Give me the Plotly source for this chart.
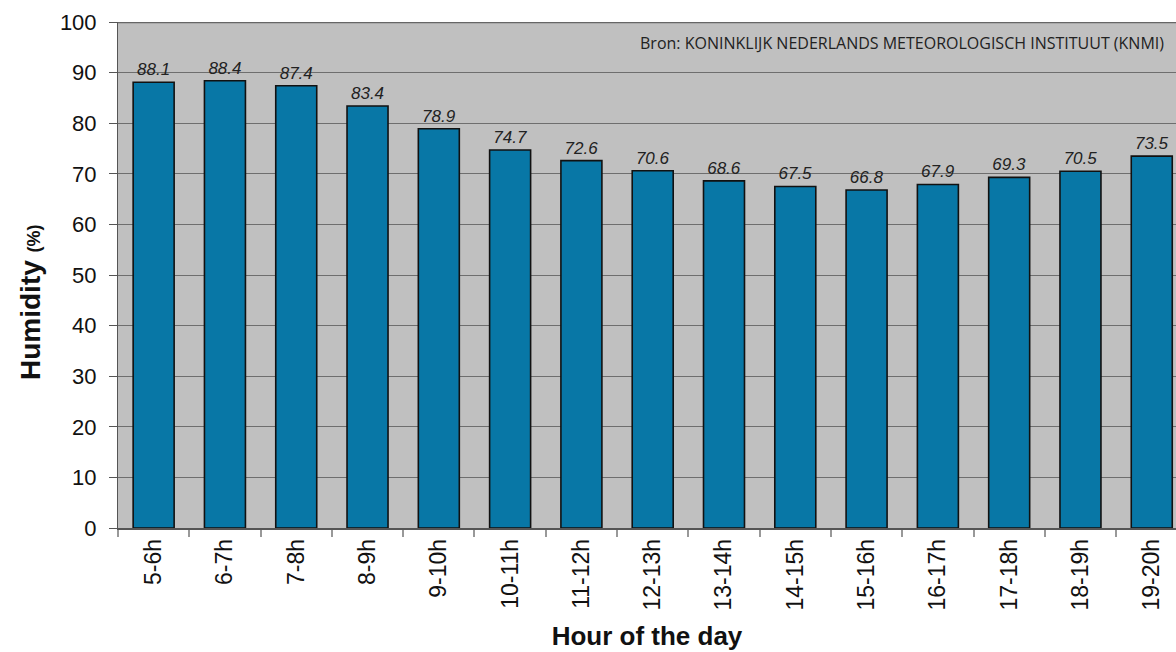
import plotly.graph_objects as go

hours = ["5-6h", "6-7h", "7-8h", "8-9h", "9-10h", "10-11h", "11-12h", "12-13h",
         "13-14h", "14-15h", "15-16h", "16-17h", "17-18h", "18-19h", "19-20h"]
humidity = [88.1, 88.4, 87.4, 83.4, 78.9, 74.7, 72.6, 70.6, 68.6, 67.5, 66.8, 67.9, 69.3, 70.5, 73.5]
labels = [f"{v:.1f}" for v in humidity]

W, H = 1176, 652
L, T, B, R = 118, 22, 124, 0
plot_w = W - L - R
plot_h = H - T - B

fig = go.Figure()
fig.add_trace(go.Bar(
    x=hours, y=humidity, width=0.575,
    marker=dict(color="#0877a6", line=dict(color="#111111", width=1.6)),
    text=labels, textposition="outside", cliponaxis=False,
    textfont=dict(family="Liberation Sans, Arial", size=17, color="#222222", style="italic"),
))

fig.update_layout(
    width=W, height=H,
    margin=dict(l=L, r=R, t=T, b=B),
    paper_bgcolor="white", plot_bgcolor="#c0c0c0",
    showlegend=False, bargap=0.425,
    font=dict(family="Liberation Sans, Arial", color="#111111"),
    uniformtext=dict(mode=False),
)
fig.update_xaxes(
    type="category", range=[-0.5, 14.34],
    tickson="boundaries", ticks="outside", ticklen=7, tickcolor="#999999", tickwidth=1.5,
    tickangle=-90, tickfont=dict(size=23, color="#111111"),
    showgrid=False, showline=True, linecolor="#555555", linewidth=1.5,
    title=dict(text="<b>Hour of the day</b>", font=dict(size=26, color="#111111"), standoff=17),
)
fig.update_yaxes(
    range=[0, 100], dtick=10, tick0=0,
    ticks="outside", ticklen=8, tickcolor="#555555", tickwidth=1,
    tickfont=dict(size=22, color="#111111"), ticklabelstandoff=8,
    showgrid=True, gridcolor="#6e6e6e", gridwidth=1,
    showline=True, linecolor="#555555", linewidth=1,
    zeroline=False,
)
fig.add_annotation(
    text="<b>Humidity <span style='font-size:18px'>(%)</span></b>",
    textangle=-90, xref="paper", yref="paper",
    x=(30 - L) / plot_w, y=(H - B - 302) / plot_h,
    xanchor="center", yanchor="middle", showarrow=False,
    font=dict(family="Liberation Sans, Arial", size=28, color="#111111"),
)
fig.add_shape(type="line", xref="paper", yref="y", x0=0, x1=1, y0=100, y1=100,
              line=dict(color="#666666", width=2.5))
fig.add_annotation(
    text="Bron: KONINKLIJK NEDERLANDS METEOROLOGISCH INSTITUUT (KNMI)",
    xref="paper", yref="y", x=(1166 - L) / plot_w, y=95.8, xanchor="right", yanchor="middle",
    showarrow=False, font=dict(family="Open Sans, Liberation Sans", size=16, color="#222222"),
)

fig.write_html("out.html", config={"displayModeBar": False},
               post_script="document.body.style.margin='0';document.body.style.overflow='hidden';")
